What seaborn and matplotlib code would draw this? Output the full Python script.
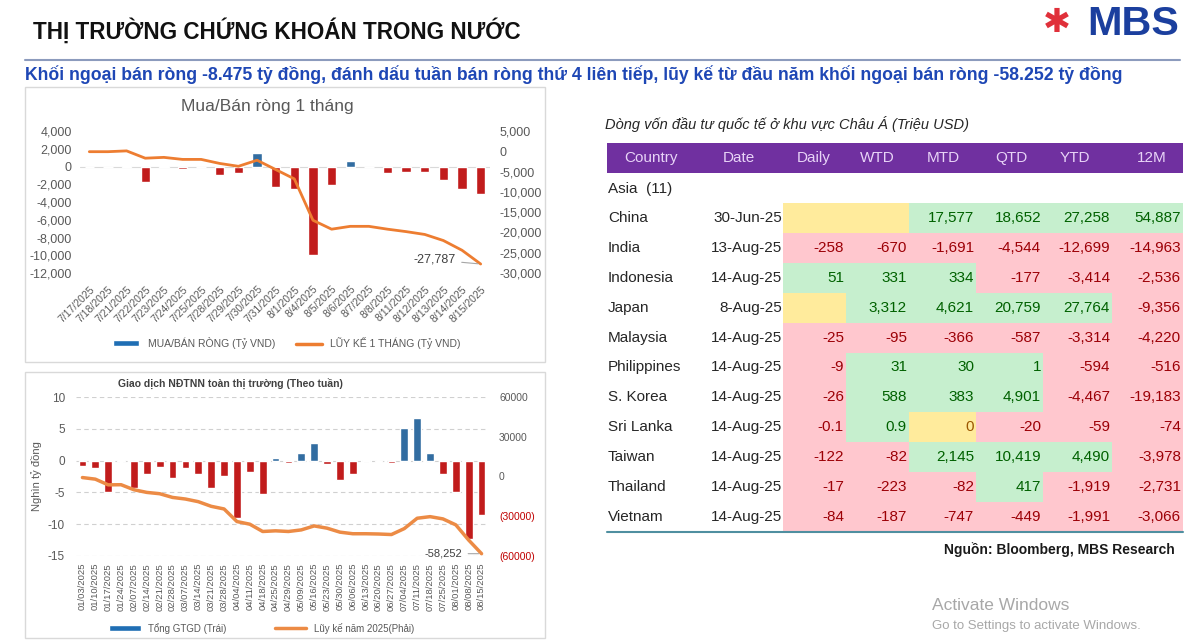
import numpy as np
import pandas as pd
import matplotlib.pyplot as plt
import seaborn as sns
from matplotlib import font_manager
from matplotlib.patches import Rectangle, Patch
from matplotlib.lines import Line2D
from matplotlib.ticker import FuncFormatter

# bieu do tren: mua/ban rong tung phien trong 1 thang (ty VND)
top_dates = ['7/17/2025', '7/18/2025', '7/21/2025', '7/22/2025', '7/23/2025', '7/24/2025',
             '7/25/2025', '7/28/2025', '7/29/2025', '7/30/2025', '7/31/2025', '8/1/2025',
             '8/4/2025', '8/5/2025', '8/6/2025', '8/7/2025', '8/8/2025', '8/11/2025',
             '8/12/2025', '8/13/2025', '8/14/2025', '8/15/2025']
top_net = [-100, 0, 60, -1700, 40, -300, 0, -1000, -700, 1500, -2300, -2500,
           -10000, -2100, 600, 0, -700, -600, -600, -1500, -2500, -3100]
top_cum = [-100, -100, 100, -1700, -1500, -2000, -2000, -3000, -3700, -2200, -4500, -6800,
           -17000, -19200, -18500, -18500, -19200, -19800, -20500, -22000, -24400, -27787]

# bieu do duoi: theo tuan (nghin ty dong), luy ke 2025 (ty dong)
week_dates = ['01/03/2025', '01/10/2025', '01/17/2025', '01/24/2025', '02/07/2025', '02/14/2025',
              '02/21/2025', '02/28/2025', '03/07/2025', '03/14/2025', '03/21/2025', '03/28/2025',
              '04/04/2025', '04/11/2025', '04/18/2025', '04/25/2025', '04/29/2025', '05/09/2025',
              '05/16/2025', '05/23/2025', '05/30/2025', '06/06/2025', '06/13/2025', '06/20/2025',
              '06/27/2025', '07/04/2025', '07/11/2025', '07/18/2025', '07/25/2025', '08/01/2025',
              '08/08/2025', '08/15/2025']
week_net = [-0.8, -1.2, -4.9, 0.1, -4.3, -2.1, -1.0, -2.8, -1.2, -2.1, -4.3, -2.4,
            -9.0, -1.8, -5.3, 0.4, -0.3, 1.2, 2.8, -0.6, -3.0, -2.1, 0.1, -0.2,
            -0.3, 5.2, 6.7, 1.2, -2.1, -4.9, -12.4, -8.475]
week_cum = [-800, -2000, -6300, -6200, -10000, -12000, -13000, -15800, -17000, -19000, -22500, -24500,
            -34000, -36000, -41500, -41000, -41500, -40300, -37300, -39000, -42000, -43200, -43200, -43400,
            -43800, -39300, -31500, -30300, -32000, -36500, -48000, -58252]

# bang dong von chau A (trieu USD)
table_cols = ['Country', 'Date', 'Daily', 'WTD', 'MTD', 'QTD', 'YTD', '12M']
countries = ['China', 'India', 'Indonesia', 'Japan', 'Malaysia', 'Philippines',
             'S. Korea', 'Sri Lanka', 'Taiwan', 'Thailand', 'Vietnam']
as_of = ['30-Jun-25', '13-Aug-25', '14-Aug-25', '8-Aug-25', '14-Aug-25', '14-Aug-25',
         '14-Aug-25', '14-Aug-25', '14-Aug-25', '14-Aug-25', '14-Aug-25']
daily = [None, -258, 51, None, -25, -9, -26, -0.1, -122, -17, -84]
wtd = [None, -670, 331, 3312, -95, 31, 588, 0.9, -82, -223, -187]
mtd = [17577, -1691, 334, 4621, -366, 30, 383, 0, 2145, -82, -747]
qtd = [18652, -4544, -177, 20759, -587, 1, 4901, -20, 10419, 417, -449]
ytd = [27258, -12699, -3414, 27764, -3314, -594, -4467, -59, 4490, -1919, -1991]
m12 = [54887, -14963, -2536, -9356, -4220, -516, -19183, -74, -3978, -2731, -3066]

sns.set_theme(style='white')
names = {f.name for f in font_manager.fontManager.ttflist}
narrow = 'Liberation Sans Narrow' if 'Liberation Sans Narrow' in names else 'Liberation Sans'
plt.rcParams['font.family'] = ['Liberation Sans', 'DejaVu Sans']
plt.rcParams['axes.unicode_minus'] = False

BLUE = '#1f6eb4'
RED = '#dc0000'
ORANGE = '#ed7d31'
GREY = '#595959'

W, H = 1200, 641
fig = plt.figure(figsize=(W / 100, H / 100), dpi=100)
fig.patch.set_facecolor('white')


def px_axes(x0, y0, x1, y1):
    return fig.add_axes([x0 / W, 1 - y1 / H, (x1 - x0) / W, (y1 - y0) / H])


# nen: tieu de, khung, bang
bg = px_axes(0, 0, W, H)
bg.set_xlim(0, W)
bg.set_ylim(H, 0)
bg.axis('off')

title = bg.text(33, 31, 'THỊ TRƯỜNG CHỨNG KHOÁN TRONG NƯỚC', family=[narrow, 'DejaVu Sans'],
                fontweight='bold', fontsize=17, color='#111111', va='center')
subtitle = bg.text(25, 75, 'Khối ngoại bán ròng -8.475 tỷ đồng, đánh dấu tuần bán ròng thứ 4 liên tiếp, '
                   'lũy kế từ đầu năm khối ngoại bán ròng -58.252 tỷ đồng',
                   family=[narrow, 'DejaVu Sans'], fontweight='bold', fontsize=12,
                   color='#1e47b5', va='center')
logo = bg.text(1087, 24, 'MBS', fontweight='bold', fontsize=24, color='#1b3f9e', va='center')
bg.text(1057, 23, '✱', family='DejaVu Sans', fontsize=24, color='#e0303a', va='center', ha='center')
bg.plot([25, 1180], [60, 60], color='#8c9bbd', lw=1.5)

bg.add_patch(Rectangle((25, 87), 520, 275, fill=False, ec='#d9d9d9', lw=1))
bg.add_patch(Rectangle((25, 372), 520, 266, fill=False, ec='#d9d9d9', lw=1))

# ---- bieu do tren ----
top_df = pd.DataFrame({'date': top_dates, 'net': top_net})
top_df['side'] = np.where(top_df['net'] >= 0, 'mua', 'ban')
ax1 = px_axes(80, 131, 490, 273)
sns.barplot(data=top_df, x='date', y='net', hue='side', palette={'mua': BLUE, 'ban': RED},
            dodge=False, width=0.5, legend=False, ax=ax1)
ax1.axhline(0, color='#d9d9d9', lw=0.8, zorder=0)
ax1.set_ylim(-12000, 4000)
ax1.set_yticks(range(-12000, 4001, 2000))
ax1.yaxis.set_major_formatter(FuncFormatter(lambda v, p: f'{v:,.0f}'))
ax1.set_xlabel('')
ax1.set_ylabel('')
ax1.tick_params(axis='y', labelsize=9, colors=GREY, length=0, pad=6)
ax1.tick_params(axis='x', labelsize=7.5, colors=GREY, length=0, pad=8)
for lbl in ax1.get_xticklabels():
    lbl.set_rotation(45)
    lbl.set_ha('right')
    lbl.set_rotation_mode('anchor')
ax1r = ax1.twinx()
sns.lineplot(x=np.arange(len(top_cum)), y=top_cum, ax=ax1r, color=ORANGE, lw=2)
ax1r.set_ylim(-30000, 5000)
ax1r.set_yticks(range(-30000, 5001, 5000))
ax1r.yaxis.set_major_formatter(FuncFormatter(lambda v, p: f'{v:,.0f}'))
ax1r.tick_params(axis='y', labelsize=9, colors=GREY, length=0, pad=7)
ax1r.set_xlim(-0.5, len(top_dates) - 0.5)
ax1r.annotate(f'{top_cum[-1]:,}', xy=(len(top_cum) - 1, top_cum[-1]), xytext=(-18, 3),
              textcoords='offset points', ha='right', va='center', fontsize=9, color='#404040',
              arrowprops=dict(arrowstyle='-', color='#a6a6a6', lw=0.8))
for a in (ax1, ax1r):
    for s in a.spines.values():
        s.set_visible(False)
ax1.set_facecolor('none')
bg.text(267, 106, 'Mua/Bán ròng 1 tháng', fontsize=12.5, color=GREY, ha='center', va='center')
fig.legend([Patch(facecolor=BLUE), Line2D([], [], color=ORANGE, lw=2.5)],
           ['MUA/BÁN RÒNG (Tỷ VND)', 'LŨY KẾ 1 THÁNG (Tỷ VND)'],
           loc='center', bbox_to_anchor=(287 / W, 1 - 343 / H), ncol=2, frameon=False,
           fontsize=7.5, handlelength=2.5, handleheight=0.5, columnspacing=2, labelcolor=GREY)

# ---- bieu do duoi ----
wk_df = pd.DataFrame({'week': week_dates, 'net': week_net})
wk_df['side'] = np.where(wk_df['net'] >= 0, 'mua', 'ban')
ax2 = px_axes(76, 397, 488, 556)
sns.barplot(data=wk_df, x='week', y='net', hue='side', palette={'mua': BLUE, 'ban': RED},
            dodge=False, width=0.6, legend=False, ax=ax2)
ax2.set_ylim(-15, 10)
ax2.set_yticks([-15, -10, -5, 0, 5, 10])
ax2.yaxis.grid(True, linestyle=(0, (4, 3)), color='#d0d0d0', lw=0.8)
ax2.set_axisbelow(True)
ax2.set_xlabel('')
ax2.set_ylabel('Nghìn tỷ đồng', fontsize=8, color=GREY, labelpad=4)
ax2.tick_params(axis='y', labelsize=8.5, colors=GREY, length=0, pad=8)
ax2.tick_params(axis='x', labelsize=6.8, colors=GREY, length=0, pad=5, labelrotation=90)
ax2r = ax2.twinx()
sns.lineplot(x=np.arange(len(week_cum)), y=week_cum, ax=ax2r, color='#ec8b45', lw=2.5)
ax2r.set_ylim(-60000, 60000)
ax2r.set_yticks([-60000, -30000, 0, 30000, 60000])
ax2r.set_yticklabels(['(60000)', '(30000)', '0', '30000', '60000'])
ax2r.tick_params(axis='y', labelsize=7.5, colors=GREY, length=0, pad=8)
for lbl in ax2r.get_yticklabels():
    if lbl.get_text().startswith('('):
        lbl.set_color('#c00000')
ax2r.set_xlim(-0.5, len(week_dates) - 0.5)
ax2r.annotate(f'{week_cum[-1]:,}', xy=(len(week_cum) - 1, week_cum[-1]), xytext=(-14, 0),
              textcoords='offset points', ha='right', va='center', fontsize=8, color='#404040',
              arrowprops=dict(arrowstyle='-', color='#a6a6a6', lw=0.8))
for a in (ax2, ax2r):
    for s in a.spines.values():
        s.set_visible(False)
bg.text(118, 383, 'Giao dịch NĐTNN toàn thị trường (Theo tuần)', fontsize=7.5,
        fontweight='bold', color='#404040', va='center')
fig.legend([Patch(facecolor=BLUE), Line2D([], [], color='#ec8b45', lw=2.5)],
           ['Tổng GTGD (Trái)', 'Lũy kế năm 2025(Phải)'],
           loc='center', bbox_to_anchor=(262 / W, 1 - 628 / H), ncol=2, frameon=False,
           fontsize=7, handlelength=3.2, handleheight=0.5, columnspacing=5, labelcolor=GREY)

# ---- bang dong von ----
bg.text(605, 124, 'Dòng vốn đầu tư quốc tế ở khu vực Châu Á (Triệu USD)', fontsize=10.5,
        style='italic', color='#262626', va='center')
bg.add_patch(Rectangle((607, 143), 576, 30, color='#7030a0', lw=0))
head_x = [651, 739, 814, 877, 943, 1011, 1075, 1152]
for c, x in zip(table_cols, head_x):
    bg.text(x, 158, c, ha='center', va='center', fontsize=11, color='#e8d4f7')
bg.text(608, 189, 'Asia  (11)', fontsize=11, color='#262626', va='center')

col_edges = [783, 846, 909, 976, 1043, 1112, 1183]
fills = {1: ('#c6efce', '#006100'), -1: ('#ffc7ce', '#9c0006'), 0: ('#ffeb9c', '#9c5700')}
values = [daily, wtd, mtd, qtd, ytd, m12]
row_h = 29.9
for i, name in enumerate(countries):
    top = 203 + i * row_h
    yc = top + row_h / 2
    bg.text(608, yc, name, fontsize=11, color='#262626', va='center')
    bg.text(782, yc, as_of[i], fontsize=11, color='#262626', va='center', ha='right')
    for j, col in enumerate(values):
        v = col[i]
        sign = 0 if v is None or v == 0 else int(np.sign(v))
        face, txt = fills[sign]
        bg.add_patch(Rectangle((col_edges[j], top), col_edges[j + 1] - col_edges[j], row_h + 0.3,
                               color=face, lw=0))
        if v is None:
            continue
        label = f'{v:,.0f}' if float(v).is_integer() else f'{v:g}'
        bg.text(col_edges[j + 1] - 2, yc, label, fontsize=11, color=txt, va='center', ha='right')
bg.plot([607, 1183], [532, 532], color='#4f8fa0', lw=1.5)
bg.text(1175, 550, 'Nguồn: Bloomberg, MBS Research', fontsize=10, fontweight='bold',
        color='#1a1a1a', ha='right', va='center')

bg.text(932, 605, 'Activate Windows', fontsize=12.5, color='#a8a8a8', va='center')
bg.text(932, 626, 'Go to Settings to activate Windows.', fontsize=9.5, color='#a8a8a8', va='center')

# chinh do rong chu tieu de cho khop
fig.canvas.draw()
rend = fig.canvas.get_renderer()
for t, width in ((title, 490), (subtitle, 1088), (logo, 92)):
    bb = t.get_window_extent(rend)
    t.set_fontsize(t.get_fontsize() * width / bb.width)

fig.savefig('out.png', dpi=100)
